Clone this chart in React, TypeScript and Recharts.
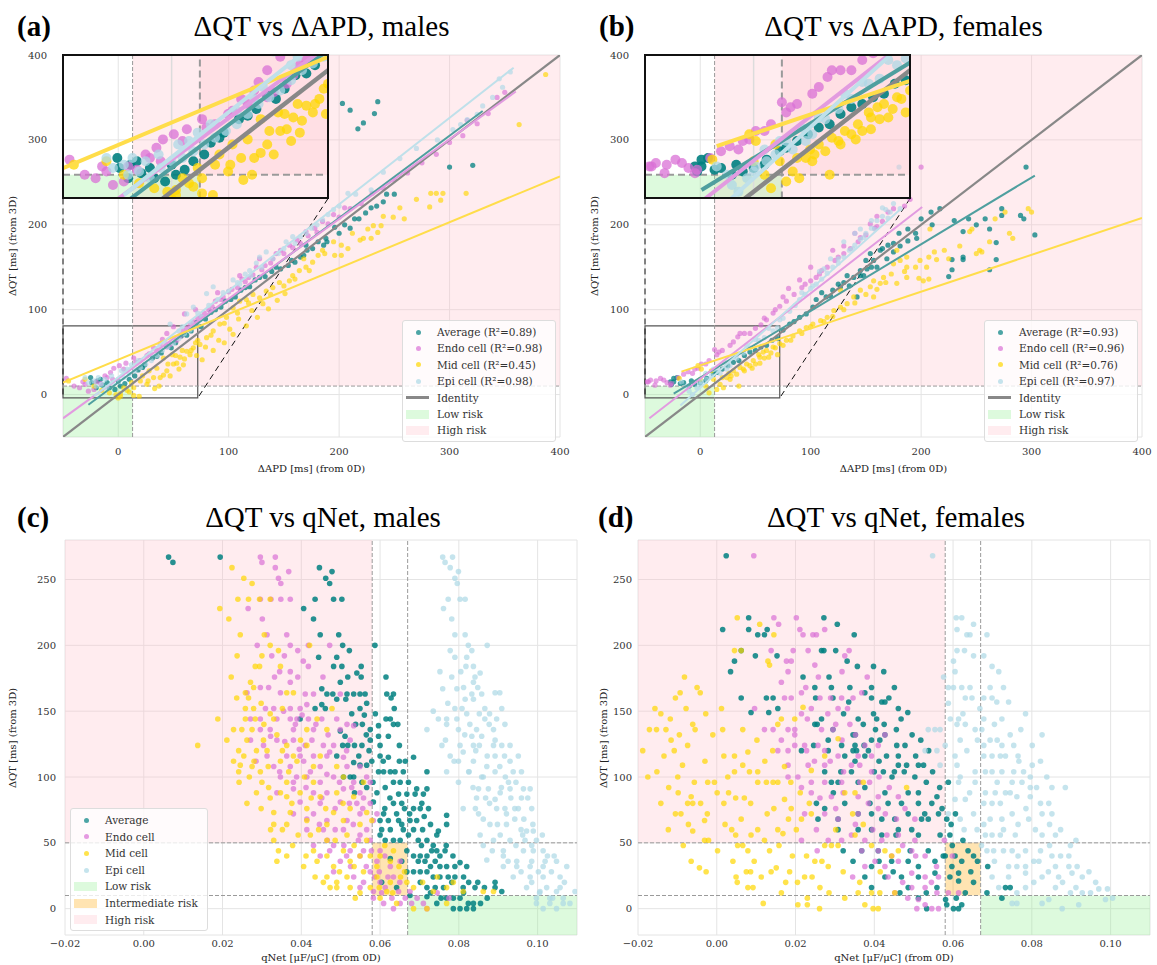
import React from 'react';
import { ScatterChart, Scatter, XAxis, YAxis, CartesianGrid, ReferenceArea, ReferenceLine } from 'recharts';

type Pt = [number, number];

// ---------- panel (a): ΔQT vs ΔAPD, males ----------
const apdMalesAvg: Pt[] = [
  [-25, 20], [-24, 14], [-19, 16], [-14, 11], [-8, 8], [-3, 6], [2, 10], [6, 13], [10, 18], [-20, 8],
  [18, 29], [24, 35], [31, 43], [39, 49], [44, 57], [52, 61], [57, 69], [66, 75], [71, 85], [79, 89], [84, 97], [93, 103],
  [97, 110], [106, 115], [111, 123], [119, 127], [124, 135], [133, 139], [139, 145], [147, 148], [154, 152], [160, 156],
  [165, 162], [168, 164], [171, 170], [176, 172], [181, 180], [186, 176], [188, 184], [189, 180], [196, 197], [200, 190],
  [205, 200], [210, 196], [214, 207], [218, 207], [224, 214], [229, 220], [234, 222], [240, 227], [243, 236], [250, 236],
  [203, 343], [210, 335], [235, 345], [232, 331], [217, 313], [222, 320], [300, 268], [321, 270],
  [-16, 18], [-10, 14], [0, 16], [15, 22], [22, 32], [35, 45], [48, 55], [62, 70], [75, 80], [88, 100], [102, 112],
  [115, 126], [128, 138], [143, 150], [157, 158], [170, 176],
];
const apdMalesEndo: Pt[] = [
  [-47, 19], [-40, 10], [-32, 15], [-27, 4], [-35, 8], [-22, 6], [-20, 15], [-16, 13], [-12, 22], [-7, 26], [-5, 18],
  [-4, 31], [1, 34], [7, 37], [14, 43], [16, 38], [26, 46], [28, 48], [35, 52], [44, 56], [47, 59], [53, 64], [56, 69],
  [44, 72], [59, 75], [40, 65], [50, 80], [60, 95], [65, 82], [70, 100], [72, 90], [78, 96], [85, 104], [90, 120],
  [93, 112], [100, 121], [108, 126], [110, 140], [115, 133], [122, 141], [128, 160], [130, 147], [138, 155], [143, 166],
  [150, 166], [158, 173], [165, 178], [172, 187], [180, 191], [190, 201], [200, 209], [210, 219], [220, 225], [230, 237],
  [240, 243], [250, 253], [262, 261], [275, 273], [288, 283], [300, 297], [312, 305], [316, 323], [325, 319], [335, 331],
  [343, 350], [350, 356],
  [62, 78], [68, 86], [75, 92], [82, 100], [88, 110], [95, 115], [103, 124], [112, 136], [118, 138], [125, 150],
  [133, 152], [140, 160], [147, 170], [155, 176], [162, 182], [170, 192], [178, 196], [185, 204], [195, 212], [205, 220],
  [-30, 12], [-10, 20], [5, 30], [20, 40], [32, 55], [38, 60],
];
const apdMalesMid: Pt[] = [
  [-45, 16], [-30, 18], [-22, 10], [-15, 5], [-8, 2], [-2, 0], [2, -2], [2, 1], [8, 5], [10, 3], [14, -1], [19, -2],
  [14, 8], [20, 16], [22, 22], [26, 12], [27, 16], [32, 20], [33, 7], [35, 31], [37, 10], [38, 20], [41, 23], [41, 43],
  [44, 28], [49, 47], [50, 36], [53, 37], [56, 44], [59, 35], [62, 51], [65, 47], [66, 52], [68, 55], [70, 61], [74, 59],
  [80, 67], [86, 75], [92, 83], [98, 91], [104, 102], [110, 110], [116, 112], [122, 118], [128, 114], [134, 122],
  [140, 126], [146, 132], [155, 134], [158, 140], [164, 146], [170, 150], [173, 146], [176, 156], [181, 164], [187, 166],
  [196, 164], [202, 164], [202, 176], [208, 172], [219, 182], [222, 184], [229, 184], [226, 195], [231, 199], [235, 191],
  [238, 199], [249, 209], [259, 207], [282, 221], [292, 229], [283, 237], [288, 237], [294, 237], [315, 237], [363, 318],
  [387, 377], [60, 42], [71, 46], [79, 56], [91, 64], [101, 77], [109, 89], [121, 99], [131, 107], [47, 22], [55, 30],
  [76, 41], [86, 52], [96, 61], [104, 71], [116, 81], [126, 91], [136, 101], [144, 111], [151, 119],
  [0, -4], [5, 8], [12, 14], [28, 28], [45, 36], [52, 46], [58, 52], [72, 64], [84, 70], [96, 84], [108, 96], [118, 108],
  [138, 118], [150, 128], [160, 136], [168, 160], [185, 170], [195, 180], [212, 190], [240, 210], [255, 220], [270, 230],
];
const apdMalesEpi: Pt[] = [
  [-30, 20], [-27, 14], [-22, 16], [-18, 20], [-15, 12], [-10, 8], [-6, 22], [-5, 14], [0, 18], [3, 28], [5, 20], [10, 24],
  [12, 35], [15, 28], [20, 32], [25, 36], [30, 40], [35, 46], [40, 52], [45, 56], [47, 83], [50, 60], [55, 66], [60, 72],
  [62, 95], [65, 76], [68, 103], [70, 80], [75, 92], [80, 119], [86, 127], [90, 112], [100, 122], [104, 135], [110, 130],
  [119, 146], [120, 140], [130, 150], [134, 168], [140, 160], [150, 172], [158, 186], [160, 178], [170, 190], [180, 200],
  [190, 212], [200, 222], [208, 237], [215, 236], [229, 241], [240, 262], [255, 278], [270, 290], [289, 300], [303, 312],
  [310, 318], [316, 324], [325, 330], [330, 340], [339, 350], [345, 372], [348, 362], [355, 380],
  [30, 48], [38, 55], [55, 75], [66, 85], [72, 96], [82, 105], [95, 120], [108, 132], [115, 142], [125, 155], [128, 162],
  [145, 166], [152, 180], [165, 186], [175, 196], [185, 206], [195, 218], [-20, 10], [-12, 18], [8, 30], [18, 40],
  [42, 62], [58, 80],
];
// regression line end points [x, y]
const fitMalesAvg: Pt[] = [[-27, -12], [330, 334]];
const fitMalesEndo: Pt[] = [[-50, -28], [360, 357]];
const fitMalesMid: Pt[] = [[-50, 14], [400, 257]];
const fitMalesEpi: Pt[] = [[-22, -2], [358, 385]];

// ---------- panel (b): ΔQT vs ΔAPD, females ----------
const apdFemalesAvg: Pt[] = [
  [-27, 15], [-24, 19], [-24, 15], [-26, 12], [-21, 20], [-18, 13], [-10, 10], [-5, 12], [0, 14], [6, 19], [12, 24],
  [20, 30], [30, 38], [40, 46], [50, 52], [60, 58], [70, 66], [81, 83], [90, 91], [96, 95], [102, 103], [114, 115],
  [120, 123], [127, 127], [133, 140], [139, 138], [142, 115], [145, 146], [151, 148], [154, 166], [157, 158], [163, 170],
  [169, 160], [175, 168], [181, 175], [188, 195], [188, 181], [196, 184], [200, 207], [209, 215], [217, 219], [225, 139],
  [228, 159], [228, 147], [238, 192], [238, 162], [238, 159], [243, 207], [258, 207], [262, 195], [262, 147], [268, 179],
  [268, 159], [273, 219], [273, 211], [290, 211], [293, 207], [295, 268], [303, 188], [110, 120], [125, 130], [135, 128],
  [148, 140], [160, 150], [170, 176], [180, 190], [150, 158], [165, 172],
  [-15, 14], [-8, 16], [5, 16], [15, 26], [25, 34], [35, 40], [45, 50], [55, 56], [65, 64], [75, 76], [85, 86],
  [105, 112], [118, 116], [130, 132], [145, 140], [155, 150], [175, 178], [195, 190], [210, 200], [230, 205], [250, 200],
];
const apdFemalesEndo: Pt[] = [
  [-48, 15], [-47, 15], [-45, 17], [-41, 11], [-36, 19], [-33, 17], [-27, 11], [-26, 13], [-11, 27], [-7, 25], [-2, 31],
  [1, 36], [8, 40], [13, 53], [15, 47], [17, 50], [27, 58], [34, 68], [45, 72], [36, 72], [50, 78], [55, 82], [60, 88],
  [66, 96], [72, 104], [78, 110], [85, 118], [92, 126], [100, 134], [108, 142], [115, 150], [122, 158], [130, 166],
  [136, 172], [143, 180], [150, 188], [158, 196], [165, 204], [170, 215], [175, 219], [154, 201], [200, 268], [140, 190],
  [120, 170], [100, 150], [80, 125], [130, 175], [110, 146], [90, 135],
  [-40, 16], [-30, 14], [-20, 20], [-15, 24], [-5, 30], [5, 36], [20, 52], [30, 62], [40, 72], [58, 90], [68, 100],
  [75, 115], [95, 130], [105, 138], [125, 162], [145, 185], [160, 198], [185, 222], [190, 230], [160, 210],
];
const apdFemalesMid: Pt[] = [
  [-19, 19], [-2, 34], [1, 30], [8, 2], [12, 18], [18, 12], [21, 8], [26, 25], [27, 18], [33, 24], [35, 10], [39, 30],
  [45, 34], [47, 31], [53, 47], [54, 37], [58, 43], [64, 49], [68, 55], [70, 47], [72, 60], [78, 64], [84, 69], [90, 75],
  [96, 79], [102, 83], [109, 87], [115, 91], [121, 99], [127, 103], [133, 107], [139, 115], [145, 123], [154, 127],
  [157, 134], [163, 131], [166, 138], [173, 142], [175, 154], [178, 170], [181, 158], [187, 162], [187, 150], [198, 137],
  [199, 158], [202, 134], [207, 162], [207, 136], [208, 195], [212, 168], [214, 159], [221, 170], [244, 192], [246, 195],
  [250, 166], [253, 170], [255, 168], [267, 207], [276, 215], [283, 184], [297, 219], [127, 123], [157, 115], [187, 138],
  [178, 131], [60, 52], [66, 56], [54, 44], [48, 40], [42, 36], [36, 32], [30, 28], [24, 20], [15, 6],
  [0, 18], [5, 10], [10, 28], [20, 20], [28, 22], [40, 28], [50, 36], [57, 50], [62, 44], [75, 58], [82, 64], [92, 72],
  [100, 80], [112, 86], [120, 92], [130, 100], [140, 108], [150, 118], [160, 124], [168, 132], [185, 145], [195, 150],
  [205, 150], [225, 160], [235, 175], [262, 180], [280, 190], [300, 215],
];
const apdFemalesEpi: Pt[] = [
  [-17, 15], [-10, 4], [-7, 0], [-3, 8], [1, 15], [6, 18], [10, 22], [12, 30], [18, 25], [24, 30], [27, 34], [33, 43],
  [39, 49], [45, 55], [53, 64], [58, 67], [66, 75], [70, 79], [75, 90], [81, 98], [86, 105], [90, 112], [95, 118],
  [100, 125], [105, 130], [110, 136], [115, 143], [120, 150], [125, 155], [130, 162], [135, 170], [140, 176], [145, 183],
  [150, 190], [155, 196], [160, 205], [165, 210], [172, 215], [181, 219], [175, 225], [168, 218], [155, 205], [140, 190],
  [130, 180], [118, 160], [108, 145], [180, 268],
  [-12, 10], [0, 12], [5, 25], [15, 30], [22, 38], [30, 44], [42, 58], [50, 65], [62, 78], [72, 88], [92, 120],
  [102, 128], [112, 148], [125, 160], [138, 172], [148, 185], [158, 195], [170, 208], [145, 195], [165, 220],
];
const fitFemalesAvg: Pt[] = [[-24, 1], [303, 258]];
const fitFemalesEndo: Pt[] = [[-46, -28], [201, 221]];
const fitFemalesMid: Pt[] = [[-17, 27], [400, 208]];
const fitFemalesEpi: Pt[] = [[-18, -13], [181, 218]];

// ---------- panel (c): ΔQT vs qNet, males ----------
const qnetMalesAvg: Pt[] = [
  [0.0063, 267], [0.0074, 263], [0.0194, 267], [0.0446, 259], [0.0478, 256], [0.0462, 251], [0.0472, 247], [0.0435, 235],
  [0.0482, 235], [0.0503, 235], [0.0406, 228], [0.0431, 220], [0.0448, 208], [0.0495, 208], [0.0505, 200], [0.0522, 196],
  [0.0587, 200], [0.0444, 191], [0.049, 191], [0.0482, 184], [0.0503, 184], [0.0552, 184], [0.0541, 179], [0.0518, 176],
  [0.0552, 176], [0.0499, 172], [0.0452, 167], [0.0465, 163], [0.048, 163], [0.0516, 163], [0.0533, 163], [0.0549, 163],
  [0.0562, 163], [0.049, 159], [0.0513, 159], [0.0452, 155], [0.0435, 152], [0.0461, 152], [0.0549, 152], [0.056, 147],
  [0.0617, 163], [0.0634, 163], [0.0636, 152], [0.0615, 144], [0.0626, 144], [0.0634, 140], [0.0645, 140], [0.0528, 148],
  [0.0397, 144], [0.0596, 139], [0.0575, 136], [0.0565, 132], [0.0596, 131], [0.0499, 135], [0.0511, 131], [0.0505, 124],
  [0.0535, 124], [0.0554, 124], [0.0575, 128], [0.06, 124], [0.0621, 131], [0.0649, 124], [0.06, 116], [0.0621, 115],
  [0.0685, 115], [0.049, 116], [0.0533, 111], [0.0549, 109], [0.0566, 109], [0.0579, 112], [0.0649, 112], [0.0664, 112],
  [0.0596, 104], [0.0609, 104], [0.0638, 104], [0.0659, 104], [0.0719, 104], [0.0507, 100], [0.0533, 100], [0.0554, 96],
  [0.0634, 96], [0.0651, 96], [0.0672, 96], [0.0693, 91], [0.0719, 91], [0.0647, 87], [0.0668, 87], [0.0689, 87],
  [0.071, 87], [0.0583, 81], [0.0634, 80], [0.0706, 80], [0.0685, 76], [0.0702, 76], [0.0723, 76], [0.0609, 72],
  [0.0642, 72], [0.0675, 72], [0.0769, 71], [0.06, 67], [0.0621, 67], [0.0647, 67], [0.0676, 67], [0.0693, 67],
  [0.0769, 64], [0.0748, 59], [0.0604, 60], [0.0626, 60], [0.0659, 60], [0.0685, 60], [0.06, 56], [0.0613, 52],
  [0.0634, 52], [0.0651, 52], [0.0697, 52], [0.0719, 52], [0.0744, 56], [0.0768, 48], [0.0744, 44], [0.0765, 44],
  [0.0685, 40], [0.0702, 40], [0.0719, 40], [0.0731, 44], [0.0697, 36], [0.0714, 36], [0.074, 36], [0.0752, 32],
  [0.0769, 32], [0.079, 32], [0.082, 32], [0.0803, 35], [0.0685, 28], [0.0702, 28], [0.0719, 28], [0.0735, 24],
  [0.0752, 24], [0.0773, 24], [0.079, 24], [0.0702, 20], [0.0719, 16], [0.074, 16], [0.0761, 16], [0.0811, 16],
  [0.0841, 16], [0.0782, 20], [0.0892, 20], [0.0892, 16], [0.0909, 13], [0.0769, 8], [0.0786, 8], [0.0803, 8],
  [0.0744, 4], [0.0824, 4], [0.0837, 4], [0.0786, 0], [0.0803, 0], [0.082, 0], [0.0837, 0], [0.0604, 20], [0.0642, 16],
  [0.0668, 28], [0.0626, 38], [0.0676, 10], [0.0719, 9],
  [0.0555, 140], [0.0588, 148], [0.0572, 120], [0.0608, 112], [0.0626, 104], [0.0582, 96], [0.0613, 92], [0.0592, 88],
  [0.0625, 84], [0.0655, 80], [0.0612, 76], [0.0662, 76], [0.0712, 70], [0.0655, 64], [0.0708, 60], [0.0728, 64],
  [0.0672, 56], [0.0705, 48], [0.0735, 48], [0.0668, 44], [0.0752, 40], [0.0785, 40], [0.0728, 32], [0.0655, 36],
  [0.0812, 24], [0.0825, 20], [0.0848, 20], [0.0865, 16], [0.0872, 8], [0.0855, 4], [0.0812, 12], [0.0755, 8],
  [0.0728, 12], [0.0615, 176], [0.0628, 160], [0.0538, 140], [0.0566, 156], [0.0518, 124], [0.0546, 116], [0.0524, 100],
  [0.0566, 92], [0.0535, 88],
];
const qnetMalesEndo: Pt[] = [
  [0.0296, 267], [0.03, 263], [0.0334, 267], [0.0334, 259], [0.0368, 256], [0.0342, 251], [0.0348, 247], [0.0296, 235],
  [0.0323, 235], [0.0348, 235], [0.0372, 235], [0.0265, 228], [0.0301, 220], [0.0313, 208], [0.0363, 208], [0.0372, 200],
  [0.0391, 196], [0.0418, 200], [0.0472, 200], [0.0325, 192], [0.0357, 192], [0.0418, 184], [0.0372, 180], [0.0345, 180],
  [0.0372, 172], [0.0391, 176], [0.0296, 168], [0.0317, 168], [0.0347, 164], [0.041, 163], [0.0431, 163], [0.0499, 163],
  [0.0309, 152], [0.033, 152], [0.0372, 152], [0.0397, 152], [0.0414, 155], [0.0271, 144], [0.0296, 144], [0.0338, 144],
  [0.0372, 144], [0.0389, 144], [0.0418, 144], [0.0452, 144], [0.049, 144], [0.0516, 140], [0.0533, 139], [0.0296, 136],
  [0.0321, 136], [0.038, 136], [0.0431, 136], [0.0499, 136], [0.0271, 128], [0.0304, 124], [0.0338, 128], [0.038, 128],
  [0.041, 124], [0.0456, 124], [0.0482, 124], [0.0524, 128], [0.0313, 116], [0.0363, 116], [0.0397, 116], [0.0431, 116],
  [0.0465, 116], [0.0507, 115], [0.033, 108], [0.0372, 108], [0.0406, 112], [0.0448, 108], [0.0516, 108], [0.0549, 108],
  [0.0347, 100], [0.038, 96], [0.0414, 100], [0.0448, 96], [0.0482, 100], [0.0533, 96], [0.0566, 100], [0.0338, 88],
  [0.038, 91], [0.0431, 88], [0.0465, 88], [0.0507, 91], [0.0549, 88], [0.0397, 81], [0.0448, 80], [0.0499, 81],
  [0.0541, 80], [0.0575, 80], [0.038, 72], [0.0431, 72], [0.0465, 67], [0.0516, 67], [0.0549, 72], [0.0583, 67],
  [0.0414, 60], [0.0456, 60], [0.0507, 60], [0.0549, 56], [0.0575, 52], [0.0431, 48], [0.0482, 48], [0.0524, 44],
  [0.0558, 44], [0.06, 44], [0.0448, 40], [0.0499, 36], [0.0549, 40], [0.0592, 36], [0.0626, 32], [0.0651, 36],
  [0.0482, 28], [0.0533, 24], [0.0575, 28], [0.06, 20], [0.0634, 24], [0.0549, 16], [0.0583, 13], [0.0613, 16],
  [0.0647, 13], [0.0676, 13], [0.0583, 8], [0.0609, 4], [0.0651, 4], [0.068, 4], [0.071, 4], [0.0719, 0], [0.0634, 0],
  [0.0355, 150], [0.0402, 147], [0.0437, 140], [0.0468, 132], [0.0322, 131], [0.0358, 127], [0.0395, 121], [0.0427, 128],
  [0.0472, 119], [0.0515, 120], [0.0285, 112], [0.0345, 104], [0.0388, 100], [0.0423, 104], [0.0465, 102], [0.0497, 96],
  [0.0528, 92], [0.0558, 84], [0.0412, 92], [0.0452, 84], [0.0486, 76], [0.0522, 80], [0.0556, 76], [0.0414, 68],
  [0.0446, 64], [0.0486, 60], [0.0532, 64], [0.0566, 60], [0.0466, 52], [0.0508, 48], [0.0545, 52], [0.0578, 44],
  [0.0612, 40], [0.0472, 44], [0.0515, 40], [0.0565, 32], [0.0598, 28], [0.0525, 32], [0.062, 24], [0.065, 20],
  [0.0558, 20], [0.0586, 24], [0.0604, 12], [0.063, 8], [0.0664, 8], [0.0694, 8], [0.0745, 12], [0.0775, 8],
  [0.0262, 164], [0.0332, 176], [0.0405, 188], [0.0455, 176], [0.0288, 200], [0.0385, 140], [0.0575, 96], [0.0592, 72],
];
const qnetMalesMid: Pt[] = [
  [0.0224, 259], [0.0254, 251], [0.0275, 247], [0.0239, 235], [0.0266, 235], [0.0294, 235], [0.0321, 235], [0.0193, 228],
  [0.0216, 220], [0.0245, 208], [0.0306, 208], [0.0321, 200], [0.0342, 196], [0.0421, 200], [0.0237, 192], [0.03, 192],
  [0.0283, 184], [0.0294, 184], [0.0347, 184], [0.0271, 172], [0.0258, 164], [0.0279, 168], [0.0363, 164], [0.038, 164],
  [0.0258, 152], [0.0279, 152], [0.0266, 160], [0.0478, 152], [0.0188, 144], [0.0258, 144], [0.0283, 144], [0.033, 144],
  [0.044, 144], [0.0275, 136], [0.0249, 136], [0.0414, 136], [0.0465, 136], [0.0211, 128], [0.0304, 128], [0.0363, 124],
  [0.0414, 124], [0.0137, 124], [0.0241, 120], [0.0313, 120], [0.038, 116], [0.0448, 116], [0.0254, 116], [0.0245, 109],
  [0.0275, 108], [0.0296, 104], [0.0347, 112], [0.0389, 112], [0.0431, 108], [0.049, 108], [0.0241, 104], [0.03, 96],
  [0.0317, 92], [0.0363, 96], [0.0431, 96], [0.0507, 100], [0.0558, 96], [0.0363, 85], [0.0347, 88], [0.0397, 88],
  [0.0448, 85], [0.049, 88], [0.0533, 85], [0.033, 73], [0.0372, 73], [0.0414, 76], [0.0482, 73], [0.0524, 76],
  [0.0566, 73], [0.033, 64], [0.0363, 64], [0.0414, 67], [0.0465, 64], [0.0507, 67], [0.0549, 64], [0.0579, 67],
  [0.033, 52], [0.0423, 56], [0.0465, 52], [0.0516, 56], [0.0566, 52], [0.0342, 44], [0.0338, 36], [0.0363, 40],
  [0.0431, 44], [0.0465, 40], [0.0507, 44], [0.0549, 40], [0.06, 40], [0.0634, 44], [0.0406, 32], [0.044, 36],
  [0.0482, 32], [0.0524, 36], [0.0592, 32], [0.0626, 36], [0.0435, 24], [0.0465, 24], [0.0516, 24], [0.0558, 28],
  [0.0592, 24], [0.0626, 20], [0.0668, 20], [0.0456, 20], [0.049, 20], [0.0473, 16], [0.049, 16], [0.0524, 16],
  [0.0575, 16], [0.0617, 13], [0.0685, 16], [0.0735, 13], [0.0769, 16], [0.0811, 13], [0.0862, 13], [0.0888, 13],
  [0.0549, 12], [0.0537, 8], [0.06, 8], [0.0642, 4], [0.0685, 0], [0.0719, 0], [0.0769, 4],
  [0.0222, 176], [0.0236, 160], [0.0298, 156], [0.0321, 148], [0.0352, 152], [0.0228, 136], [0.0262, 128], [0.0338, 132],
  [0.0286, 120], [0.0352, 120], [0.0398, 128], [0.0228, 112], [0.0316, 108], [0.0368, 104], [0.0408, 100], [0.0268, 100],
  [0.0286, 88], [0.0321, 84], [0.0376, 80], [0.0425, 84], [0.0462, 76], [0.0506, 80], [0.0298, 76], [0.0352, 60],
  [0.0392, 56], [0.0444, 60], [0.0486, 52], [0.0534, 48], [0.0322, 60], [0.0378, 48], [0.0412, 40], [0.0497, 28],
  [0.0534, 32], [0.0575, 40], [0.0612, 48], [0.0648, 32], [0.0662, 28], [0.0598, 16], [0.0632, 12], [0.0652, 24],
  [0.0708, 20], [0.0745, 24], [0.0786, 20], [0.0262, 80], [0.0242, 96], [0.0305, 140], [0.028, 112],
];
const qnetMalesEpi: Pt[] = [
  [0.0759, 267], [0.0784, 267], [0.0765, 263], [0.0778, 259], [0.0799, 256], [0.079, 251], [0.0796, 247], [0.0773, 235],
  [0.0803, 235], [0.0816, 235], [0.0761, 228], [0.0782, 220], [0.079, 208], [0.0816, 208], [0.0824, 200], [0.0872, 200],
  [0.079, 191], [0.082, 191], [0.0833, 196], [0.0818, 184], [0.0837, 184], [0.0854, 179], [0.0841, 176], [0.0837, 172],
  [0.0759, 167], [0.0795, 167], [0.0833, 163], [0.0858, 163], [0.0892, 164], [0.0904, 164], [0.0816, 159], [0.0837, 159],
  [0.079, 152], [0.0866, 152], [0.0909, 152], [0.0748, 144], [0.0769, 144], [0.0795, 144], [0.082, 148], [0.0866, 144],
  [0.0896, 144], [0.0917, 140], [0.0719, 136], [0.0769, 140], [0.0799, 136], [0.0845, 136], [0.0888, 136], [0.0833, 131],
  [0.0858, 131], [0.0892, 128], [0.0757, 124], [0.0803, 124], [0.0837, 124], [0.0888, 124], [0.0909, 124], [0.093, 124],
  [0.0778, 116], [0.0811, 119], [0.0892, 116], [0.0951, 116], [0.0769, 104], [0.0799, 112], [0.0837, 112], [0.0871, 108],
  [0.0904, 108], [0.093, 112], [0.0938, 104], [0.0959, 104], [0.0892, 104], [0.0799, 96], [0.085, 91], [0.0875, 91],
  [0.0926, 96], [0.093, 91], [0.0964, 91], [0.0981, 91], [0.0845, 84], [0.0892, 83], [0.0959, 84], [0.0811, 76],
  [0.0896, 76], [0.0917, 76], [0.0951, 76], [0.0985, 76], [0.085, 72], [0.0921, 72], [0.0879, 64], [0.0921, 64],
  [0.0972, 59], [0.0989, 59], [0.0854, 56], [0.0888, 52], [0.093, 52], [0.0968, 52], [0.0997, 52], [0.0862, 48],
  [0.0913, 44], [0.0964, 44], [0.0989, 44], [0.1014, 44], [0.0871, 37], [0.0913, 40], [0.0947, 36], [0.0985, 36],
  [0.1019, 36], [0.1048, 36], [0.0913, 32], [0.0947, 32], [0.0981, 32], [0.1014, 32], [0.1074, 32], [0.0938, 24],
  [0.0981, 24], [0.1014, 24], [0.1057, 24], [0.0972, 16], [0.1023, 16], [0.1057, 16], [0.1006, 13], [0.1048, 13],
  [0.1095, 13], [0.0997, 8], [0.1031, 8], [0.1065, 8], [0.0997, 4], [0.1031, 4], [0.1065, 4], [0.1014, 0], [0.1048, 0],
  [0.0862, 100], [0.0905, 88], [0.0942, 68], [0.0878, 80], [0.0958, 60], [0.0843, 120], [0.0877, 140], [0.0826, 104],
  [0.0778, 196], [0.0805, 180], [0.0782, 176], [0.0812, 168], [0.0848, 168], [0.0772, 156], [0.0808, 152], [0.0852, 148],
  [0.0828, 140], [0.0878, 148], [0.0766, 128], [0.0815, 132], [0.0852, 124], [0.0872, 116], [0.0916, 116], [0.0788, 112],
  [0.0825, 104], [0.0858, 100], [0.0918, 100], [0.0945, 96], [0.0836, 92], [0.0868, 84], [0.0908, 92], [0.0932, 84],
  [0.0975, 84], [0.0842, 76], [0.0862, 68], [0.0898, 64], [0.0942, 76], [0.0965, 68], [0.0988, 64], [0.0905, 56],
  [0.0945, 48], [0.0985, 48], [0.1025, 40], [0.0925, 36], [0.0958, 28], [0.1002, 28], [0.1035, 28], [0.1068, 20],
  [0.0985, 20], [0.1038, 8], [0.1082, 4], [0.1005, 12], [0.1042, 40], [0.0885, 44], [0.0962, 56], [0.1012, 56],
  [0.0735, 150], [0.0752, 180],
];

// ---------- panel (d): ΔQT vs qNet, females ----------
const qnetFemalesAvg: Pt[] = [
  [0.0024, 268], [0.0015, 212], [0.0081, 221], [0.0081, 212], [0.0104, 208], [0.0121, 208], [0.0128, 212], [0.0272, 221],
  [0.0306, 216], [0.0349, 208], [0.0062, 196], [0.0045, 188], [0.0035, 180], [0.0098, 192], [0.0153, 192], [0.0266, 196],
  [0.0272, 196], [0.0302, 196], [0.0331, 188], [0.0357, 184], [0.0424, 180], [0.0219, 176], [0.0249, 168], [0.0291, 168],
  [0.0393, 168], [0.0376, 164], [0.0062, 160], [0.0126, 160], [0.0143, 160], [0.0251, 160], [0.0295, 160], [0.0393, 160],
  [0.0419, 157], [0.0427, 157], [0.0437, 160], [0.0087, 149], [0.0132, 149], [0.0155, 152], [0.0335, 157], [0.0461, 152],
  [0.0485, 149], [0.0266, 144], [0.0359, 144], [0.0406, 144], [0.0249, 140], [0.0255, 140], [0.0295, 136], [0.0346, 132],
  [0.0352, 132], [0.0403, 136], [0.0427, 132], [0.0283, 128], [0.0393, 128], [0.0414, 128], [0.0246, 124], [0.0317, 124],
  [0.0351, 124], [0.0374, 124], [0.0457, 124], [0.0478, 124], [0.0215, 120], [0.0283, 120], [0.0346, 120], [0.0355, 120],
  [0.0385, 120], [0.0325, 116], [0.0376, 116], [0.0431, 116], [0.0461, 116], [0.0505, 116], [0.0351, 112], [0.0482, 109],
  [0.0512, 109], [0.0525, 109], [0.0461, 109], [0.0274, 104], [0.0308, 96], [0.0342, 104], [0.04, 104], [0.0423, 104],
  [0.0451, 104], [0.0476, 104], [0.0503, 100], [0.0291, 96], [0.0359, 96], [0.0376, 92], [0.0427, 88], [0.0486, 88],
  [0.0512, 88], [0.0559, 85], [0.0546, 80], [0.0253, 80], [0.0274, 76], [0.0325, 80], [0.0389, 80], [0.0435, 80],
  [0.0469, 80], [0.0512, 80], [0.0257, 68], [0.0308, 68], [0.0359, 72], [0.0393, 72], [0.0419, 68], [0.0452, 68],
  [0.0486, 72], [0.052, 68], [0.0537, 68], [0.0563, 72], [0.0584, 68], [0.0308, 60], [0.0359, 60], [0.0393, 60],
  [0.0419, 56], [0.0461, 60], [0.0512, 56], [0.0567, 56], [0.0592, 56], [0.0321, 44], [0.0368, 44], [0.041, 44],
  [0.0491, 44], [0.0537, 44], [0.0346, 36], [0.0393, 32], [0.0444, 36], [0.0486, 36], [0.0512, 32], [0.0554, 36],
  [0.058, 40], [0.0605, 40], [0.0597, 32], [0.0622, 36], [0.0652, 40], [0.0376, 24], [0.0427, 24], [0.0469, 24],
  [0.0512, 24], [0.0554, 27], [0.0592, 24], [0.0614, 27], [0.0393, 16], [0.0465, 12], [0.0512, 8], [0.0533, 0],
  [0.0559, 16], [0.0581, 7], [0.0584, 3], [0.0601, 0], [0.0614, 0], [0.0622, 3], [0.0631, 12], [0.0614, 21],
  [0.0724, 8], [0.0733, 16], [0.0745, 16], [0.0686, 12],
  [0.0372, 140], [0.0398, 148], [0.0425, 140], [0.0456, 136], [0.0468, 144], [0.0496, 132], [0.0518, 128], [0.0538, 120],
  [0.0412, 112], [0.0445, 100], [0.0532, 96], [0.0548, 104], [0.0566, 92], [0.0588, 96], [0.0528, 72], [0.0572, 76],
  [0.0595, 64], [0.0606, 72], [0.0598, 48], [0.0625, 52], [0.0638, 44], [0.0645, 28], [0.0652, 20], [0.0608, 8],
  [0.0486, 16], [0.0532, 12], [0.0448, 28], [0.0412, 36], [0.0322, 148], [0.0338, 168], [0.0285, 176], [0.0398, 184],
  [0.0451, 168], [0.0315, 104], [0.0296, 88], [0.0455, 56], [0.0495, 60], [0.0575, 40], [0.0662, 36], [0.0688, 32],
];
const qnetFemalesEndo: Pt[] = [
  [0.0094, 268], [0.0145, 221], [0.0157, 216], [0.0202, 221], [0.0211, 212], [0.0219, 208], [0.0244, 208], [0.0253, 208],
  [0.0274, 212], [0.0138, 196], [0.0194, 196], [0.0177, 188], [0.0189, 188], [0.0181, 180], [0.0249, 185], [0.0318, 180],
  [0.0325, 192], [0.0368, 164], [0.0164, 172], [0.0172, 160], [0.0189, 160], [0.0215, 164], [0.0289, 160], [0.0317, 160],
  [0.0346, 160], [0.0096, 152], [0.0215, 148], [0.024, 152], [0.0308, 152], [0.0332, 152], [0.023, 144], [0.0121, 136],
  [0.0143, 136], [0.0181, 136], [0.0198, 136], [0.0266, 136], [0.0295, 136], [0.0427, 132], [0.0164, 128], [0.0198, 124],
  [0.0223, 124], [0.0257, 124], [0.0376, 124], [0.041, 124], [0.0155, 120], [0.0181, 120], [0.0228, 120], [0.0274, 120],
  [0.0308, 116], [0.0359, 116], [0.0393, 116], [0.0181, 109], [0.0232, 109], [0.0274, 109], [0.0342, 109], [0.0363, 109],
  [0.0393, 104], [0.0181, 100], [0.0206, 100], [0.024, 96], [0.0274, 96], [0.0317, 96], [0.0363, 96], [0.024, 88],
  [0.0291, 85], [0.0321, 88], [0.0359, 85], [0.041, 85], [0.0461, 85], [0.0223, 72], [0.0274, 72], [0.0308, 68],
  [0.0359, 72], [0.041, 76], [0.0503, 68], [0.0253, 60], [0.0283, 52], [0.0317, 52], [0.0342, 56], [0.0376, 52],
  [0.0419, 52], [0.0461, 56], [0.0503, 52], [0.0368, 44], [0.041, 44], [0.0444, 40], [0.0495, 44], [0.0529, 40],
  [0.0376, 32], [0.0427, 32], [0.0461, 36], [0.0495, 27], [0.0529, 24], [0.0563, 24], [0.0495, 16], [0.0529, 16],
  [0.0559, 12], [0.0512, 7], [0.0529, 3], [0.0546, 0], [0.0508, 0], [0.0563, 0], [0.0588, 12], [0.0614, 12],
  [0.0282, 148], [0.0262, 160], [0.0258, 176], [0.0226, 168], [0.0302, 140], [0.0338, 140], [0.0318, 128], [0.0352, 132],
  [0.0288, 112], [0.0322, 104], [0.0388, 96], [0.0412, 100], [0.0438, 92], [0.0385, 80], [0.0428, 72], [0.0456, 68],
  [0.0478, 76], [0.0352, 64], [0.0396, 60], [0.0432, 56], [0.0472, 48], [0.0505, 40], [0.0402, 36], [0.0435, 24],
  [0.0472, 20], [0.0452, 12], [0.0485, 8], [0.0558, 32], [0.0545, 20], [0.0215, 92], [0.0248, 112], [0.0198, 132],
  [0.0262, 84], [0.0302, 76], [0.0255, 44], [0.0215, 52], [0.0345, 24], [0.0598, 40], [0.0578, 52], [0.0382, 176],
  [0.0336, 196], [0.0232, 196],
];
const qnetFemalesMid: Pt[] = [
  [0.0052, 221], [0.0109, 216], [0.0145, 208], [0.0045, 196], [0.0062, 196], [0.013, 188], [0.0134, 185], [-0.0082, 176],
  [-0.0093, 164], [-0.0105, 160], [-0.005, 168], [-0.0042, 164], [-0.0157, 152], [-0.0061, 140], [-0.0055, 136],
  [-0.0171, 136], [-0.0153, 136], [-0.0129, 136], [-0.0188, 120], [-0.0134, 116], [-0.0108, 120], [-0.0095, 132],
  [-0.0116, 128], [-0.0074, 124], [-0.0087, 109], [-0.0099, 100], [-0.003, 112], [0.0015, 136], [-0.001, 132],
  [0.0018, 116], [0.0045, 116], [0.0066, 136], [-0.0057, 96], [-0.0023, 96], [-0.0006, 96], [-0.0065, 85], [-0.0074, 80],
  [-0.0061, 80], [-0.0091, 72], [-0.0031, 67], [-0.0123, 60], [-0.0031, 52], [-0.0021, 52], [-0.0061, 59], [0.0001, 88],
  [0.003, 88], [0.0048, 84], [0.007, 84], [0.0086, 80], [0.0018, 80], [0.0062, 68], [0.0038, 60], [0.0087, 56],
  [0.0126, 96], [0.0143, 96], [0.0104, 96], [0.0104, 104], [0.0083, 104], [0.0045, 104], [0.0066, 109], [0.0079, 119],
  [0.0104, 60], [0.0121, 52], [0.0155, 60], [-0.0065, 36], [-0.0044, 31], [-0.0027, 28], [0.0041, 36], [0.0053, 48],
  [0.0066, 48], [0.0079, 44], [0.0134, 44], [0.0049, 24], [0.0052, 20], [0.0075, 28], [0.0086, 28], [0.0113, 24],
  [0.0138, 28], [0.0151, 31], [0.0164, 12], [0.0175, 20], [0.0079, 16], [0.0092, 16], [0.0206, 3], [0.023, 8], [0.023, 3],
  [0.0261, 0], [0.0228, 40], [0.0249, 36], [0.0267, 36], [0.0283, 32], [0.0321, 28], [0.0363, 20], [0.0393, 12],
  [0.0397, 0], [0.041, 0], [0.0376, 3], [0.0155, 96], [0.0172, 83], [0.0189, 76], [0.0215, 68], [0.024, 72], [0.0202, 60],
  [0.0168, 57], [0.024, 105], [0.0274, 116], [0.0308, 129], [0.0325, 88], [0.0351, 88], [0.0372, 96], [0.0351, 56],
  [0.0393, 48], [0.0427, 44], [0.0444, 40], [0.0482, 92], [0.0461, 44], [0.0414, 12], [0.0452, 12], [0.0359, 12],
  [0.0274, 48], [0.0291, 48], [0.0308, 48], [0.0223, 24], [0.0164, 144], [0.0155, 140], [0.0198, 144], [0.0219, 153],
  [-0.0142, 148], [-0.0118, 144], [-0.0078, 152], [-0.0028, 148], [0.0012, 152], [-0.0152, 104], [-0.0122, 92],
  [-0.0098, 88], [-0.0041, 80], [-0.0105, 72], [-0.0072, 64], [-0.0024, 72], [0.0021, 64], [0.0048, 56], [0.0002, 44],
  [-0.0085, 48], [-0.0142, 80], [-0.0175, 100], [0.0028, 100], [0.0102, 128], [0.0122, 112], [0.0142, 120], [0.0172, 108],
  [0.0188, 96], [0.0212, 88], [0.0235, 80], [0.0182, 68], [0.0145, 76], [0.0128, 72], [0.0158, 48], [0.0192, 40],
  [0.0185, 28], [0.0205, 20], [0.0242, 24], [0.0262, 16], [0.0285, 12], [0.0325, 8], [0.0302, 60], [0.0345, 72],
  [0.0372, 64], [0.0415, 28], [0.0118, 4], [0.0095, 36],
];
const qnetFemalesEpi: Pt[] = [
  [0.0548, 268], [0.0608, 221], [0.0622, 221], [0.0652, 216], [0.061, 212], [0.0635, 208], [0.0643, 208], [0.0686, 208],
  [0.061, 196], [0.0629, 196], [0.0652, 192], [0.0678, 192], [0.0601, 188], [0.0699, 184], [0.0716, 180], [0.0605, 180],
  [0.0576, 176], [0.0588, 168], [0.0601, 168], [0.0622, 168], [0.0643, 168], [0.0694, 168], [0.0728, 168], [0.0631, 160],
  [0.0648, 160], [0.0678, 160], [0.0699, 160], [0.0711, 157], [0.0741, 157], [0.0593, 144], [0.0614, 144], [0.0678, 144],
  [0.0724, 144], [0.0784, 148], [0.061, 140], [0.0631, 140], [0.0656, 136], [0.0673, 136], [0.0772, 136], [0.0826, 132],
  [0.0537, 136], [0.0554, 136], [0.0567, 136], [0.0618, 128], [0.0678, 124], [0.0694, 128], [0.0724, 124], [0.0754, 124],
  [0.0801, 124], [0.0529, 120], [0.0559, 120], [0.058, 124], [0.0605, 116], [0.0678, 116], [0.0699, 116], [0.072, 116],
  [0.0733, 116], [0.0767, 112], [0.0801, 109], [0.0822, 112], [0.0567, 109], [0.061, 109], [0.0656, 104], [0.0682, 104],
  [0.0699, 104], [0.0724, 104], [0.0754, 104], [0.0779, 104], [0.0796, 100], [0.0614, 96], [0.0656, 96], [0.0682, 88],
  [0.0707, 88], [0.0733, 88], [0.075, 96], [0.0775, 96], [0.0796, 92], [0.0851, 92], [0.0885, 92], [0.0605, 83],
  [0.0631, 83], [0.0678, 80], [0.0699, 80], [0.072, 80], [0.0762, 85], [0.0796, 85], [0.0822, 80], [0.0843, 80],
  [0.0588, 72], [0.0618, 68], [0.0694, 68], [0.0724, 68], [0.075, 72], [0.0826, 72], [0.0851, 72], [0.0661, 60],
  [0.0682, 56], [0.0699, 56], [0.072, 56], [0.0758, 56], [0.0809, 60], [0.0826, 56], [0.086, 56], [0.0873, 60],
  [0.0686, 44], [0.0703, 44], [0.075, 44], [0.0784, 44], [0.0822, 44], [0.0851, 40], [0.0873, 40], [0.0894, 40],
  [0.0741, 32], [0.0762, 32], [0.0784, 32], [0.0818, 36], [0.086, 32], [0.0894, 32], [0.0915, 32], [0.0699, 24],
  [0.0741, 24], [0.0784, 27], [0.0826, 24], [0.0868, 24], [0.0902, 27], [0.0928, 24], [0.0716, 16], [0.0784, 16],
  [0.086, 16], [0.0898, 12], [0.0928, 12], [0.0949, 12], [0.097, 15], [0.0992, 15], [0.075, 4], [0.0762, 4], [0.0826, 4],
  [0.0843, 7], [0.0877, 0], [0.0919, 3], [0.0987, 7],
  [0.0588, 156], [0.0625, 148], [0.0668, 152], [0.0705, 140], [0.0745, 132], [0.0635, 120], [0.0662, 128], [0.0712, 128],
  [0.0765, 116], [0.0618, 100], [0.0642, 88], [0.0712, 96], [0.0745, 88], [0.0785, 76], [0.0812, 92], [0.0838, 100],
  [0.0652, 72], [0.0678, 64], [0.0728, 60], [0.0765, 64], [0.0792, 68], [0.0845, 64], [0.0898, 48], [0.0728, 44],
  [0.0765, 40], [0.0805, 36], [0.0842, 28], [0.0878, 20], [0.0912, 16], [0.0805, 20], [0.0762, 12], [0.0705, 36],
  [0.0672, 48], [0.0628, 60], [0.0845, 48], [0.0912, 52], [0.0945, 28], [0.0962, 20], [0.1005, 8],
];

// ---------- axes, thresholds ----------
const apdDomain: Pt = [-50, 400];
const apdTicks = [0, 100, 200, 300, 400];
const qtApdDomain: Pt = [-50, 400];
const qtApdTicks = [0, 100, 200, 300, 400];
const apdLowX = 13;
const qtLowY = 10;
const zoomX: Pt = [-50, 72];
const zoomY: Pt = [-4, 81];
const insetBoxY: Pt = [231, 400];
const insetBoxX: Pt = [-50, 190];

const qnetDomain: Pt = [-0.02, 0.11];
const qnetTicks = [-0.02, 0, 0.02, 0.04, 0.06, 0.08, 0.1];
const qtQnetDomain: Pt = [-20, 280];
const qtQnetTicks = [0, 50, 100, 150, 200, 250];
const qnetHigh = 0.058;
const qnetLow = 0.067;
const qtHigh = 50;

const SERIF = '"DejaVu Serif", serif';
const TITLE_FONT = '"Liberation Serif", serif';
const C = { avg: '#008080', endo: '#DA70D6', mid: '#FFD700', epi: '#ADD8E6' };
const LC = { avg: '#4f9f9f', endo: '#e29be0', mid: '#ffdd4a', epi: '#bfe0ea' };
const PINK = '#ffc0cb';
const GREEN = '#90ee90';
const ORANGE = '#ffa500';

const toXY = (a: Pt[]) => a.map(([x, y]) => ({ x, y }));
const dot = (r: number, color: string, op: number) => (p: any) =>
  <circle cx={p.cx} cy={p.cy} r={r} fill={color} fillOpacity={op} />;
const noDot = () => <g />;
const tickStyle = { fontFamily: SERIF, fontSize: 10, fill: '#333' };
const fmtQnet = (v: number) => (v < 0 ? '\u2212' + Math.abs(v).toFixed(2) : v.toFixed(2));

type LegendRow = { kind: 'dot' | 'line' | 'patch'; color: string; label: string; op?: number };

function LegendBox({ left, top, width, rows, step }: { left: number; top: number; width: number; rows: LegendRow[]; step: number }) {
  return (
    <div style={{
      position: 'absolute', left, top, width, height: rows.length * step + 7, background: 'rgba(255,255,255,0.8)',
      border: '1px solid #ddd', borderRadius: 3, boxSizing: 'border-box', fontFamily: SERIF, fontSize: 10.5, color: '#333',
    }}>
      {rows.map((r, i) => (
        <div key={i} style={{ position: 'absolute', left: 0, top: 3 + i * step, height: step, width: '100%' }}>
          {r.kind === 'dot' && <div style={{ position: 'absolute', left: 13, top: step / 2 - 2.5, width: 5, height: 5, borderRadius: 3, background: r.color, opacity: r.op ?? 0.7 }} />}
          {r.kind === 'line' && <div style={{ position: 'absolute', left: 3, top: step / 2 - 1.5, width: 23, height: 2.5, background: r.color }} />}
          {r.kind === 'patch' && <div style={{ position: 'absolute', left: 3, top: step / 2 - 4.5, width: 23, height: 9, background: r.color, opacity: 0.3 }} />}
          <div style={{ position: 'absolute', left: 34, top: 0, lineHeight: step + 'px', whiteSpace: 'nowrap' }}>{r.label}</div>
        </div>
      ))}
    </div>
  );
}

function Titles({ letter, title, letterX, titleX, y }: { letter: string; title: string; letterX: number; titleX: number; y: number }) {
  return (
    <>
      <div style={{ position: 'absolute', left: letterX, top: y - 15, fontFamily: TITLE_FONT, fontWeight: 'bold', fontSize: 29, lineHeight: '30px' }}>{letter}</div>
      <div style={{ position: 'absolute', left: titleX - 250, width: 500, top: y - 15, textAlign: 'center', fontFamily: TITLE_FONT, fontSize: 29, lineHeight: '30px' }}>{title}</div>
    </>
  );
}

function AxisLabels({ xLabel, yLabel, xCx, xCy, yCx, yCy }: { xLabel: string; yLabel: string; xCx: number; xCy: number; yCx: number; yCy: number }) {
  const st: React.CSSProperties = { position: 'absolute', fontFamily: SERIF, fontSize: 10, color: '#222', whiteSpace: 'nowrap' };
  return (
    <>
      <div style={{ ...st, left: xCx, top: xCy, transform: 'translate(-50%,-50%)' }}>{xLabel}</div>
      <div style={{ ...st, left: yCx, top: yCy, transform: 'translate(-50%,-50%) rotate(-90deg)' }}>{yLabel}</div>
    </>
  );
}

type ApdSets = { avg: Pt[]; endo: Pt[]; mid: Pt[]; epi: Pt[] };

function ApdPanel({ left, sets, fits, letter, title, r2 }: { left: number; sets: ApdSets; fits: ApdSets; letter: string; title: string; r2: string[] }) {
  const W = 570, H = 480, plotL = 63, plotT = 55, plotW = 497, plotH = 382;
  const sx = (x: number) => plotL + ((x - apdDomain[0]) / (apdDomain[1] - apdDomain[0])) * plotW;
  const sy = (y: number) => plotT + ((qtApdDomain[1] - y) / (qtApdDomain[1] - qtApdDomain[0])) * plotH;
  const iL = sx(insetBoxX[0]), iR = sx(insetBoxX[1]), iT = sy(insetBoxY[1]), iB = sy(insetBoxY[0]);
  const keys: (keyof ApdSets)[] = ['avg', 'endo', 'mid', 'epi'];
  const inZoom = (a: Pt[]) => a.filter(([x, y]) => x > zoomX[0] - 6 && x < zoomX[1] + 6 && y > zoomY[0] - 6 && y < zoomY[1] + 6);
  return (
    <div style={{ position: 'absolute', left, top: 0, width: W, height: H }}>
      <ScatterChart width={W} height={H} margin={{ top: plotT, right: W - plotL - plotW, bottom: 0, left: 0 }}>
        <CartesianGrid stroke="#e4e4e4" />
        <XAxis type="number" dataKey="x" domain={apdDomain} ticks={apdTicks} allowDataOverflow axisLine={false} tickLine={false}
          tickSize={0} tickMargin={11} height={H - plotT - plotH} tick={tickStyle} />
        <YAxis type="number" dataKey="y" domain={qtApdDomain} ticks={qtApdTicks} allowDataOverflow axisLine={false} tickLine={false}
          tickSize={0} tickMargin={16} width={plotL} tick={tickStyle} />
        <ReferenceArea x1={apdDomain[0]} x2={apdLowX} y1={qtApdDomain[0]} y2={qtLowY} fill={GREEN} fillOpacity={0.3} stroke="none" />
        <ReferenceArea x1={apdLowX} x2={apdDomain[1]} y1={qtLowY} y2={qtApdDomain[1]} fill={PINK} fillOpacity={0.3} stroke="none" />
        <ReferenceLine x={apdLowX} stroke="#9a9a9a" strokeDasharray="4 2" />
        <ReferenceLine y={qtLowY} stroke="#9a9a9a" strokeDasharray="4 2" />
        <ReferenceArea x1={zoomX[0]} x2={zoomX[1]} y1={zoomY[0]} y2={zoomY[1]} fill="none" stroke="#555" strokeWidth={1.2} />
        <ReferenceLine segment={[{ x: zoomX[0], y: insetBoxY[0] }, { x: zoomX[0], y: zoomY[0] }]} stroke="#111" strokeDasharray="6 4" />
        <ReferenceLine segment={[{ x: insetBoxX[1], y: insetBoxY[0] }, { x: zoomX[1], y: zoomY[0] }]} stroke="#111" strokeDasharray="6 4" />
        {keys.map((k) => (
          <Scatter key={k} data={toXY(sets[k])} shape={dot(2.6, C[k], k === 'avg' ? 0.75 : 0.65)} isAnimationActive={false} />
        ))}
        <Scatter data={toXY([[apdDomain[0], qtApdDomain[0]], [apdDomain[1], qtApdDomain[1]]])} fill="#888" line={{ stroke: '#888', strokeWidth: 2.2 }} shape={noDot} isAnimationActive={false} />
        {keys.map((k) => (
          <Scatter key={'f' + k} data={toXY(fits[k])} fill={LC[k]} line={{ stroke: LC[k], strokeWidth: 2 }} shape={noDot} isAnimationActive={false} />
        ))}
      </ScatterChart>

      <div style={{ position: 'absolute', left: iL, top: iT, width: iR - iL, height: iB - iT }}>
        <ScatterChart width={iR - iL} height={iB - iT} margin={{ top: 0, right: 0, bottom: 0, left: 0 }}>
          <XAxis type="number" dataKey="x" domain={zoomX} allowDataOverflow hide />
          <YAxis type="number" dataKey="y" domain={zoomY} allowDataOverflow hide />
          <ReferenceLine x={0} stroke="#dcdcdc" strokeWidth={1.5} />
          <ReferenceArea x1={zoomX[0]} x2={apdLowX} y1={zoomY[0]} y2={qtLowY} fill={GREEN} fillOpacity={0.3} stroke="none" ifOverflow="hidden" />
          <ReferenceArea x1={apdLowX} x2={zoomX[1]} y1={qtLowY} y2={zoomY[1]} fill={PINK} fillOpacity={0.3} stroke="none" ifOverflow="hidden" />
          <ReferenceLine x={apdLowX} stroke="#9a9a9a" strokeWidth={2} strokeDasharray="7 4" />
          <ReferenceLine y={qtLowY} stroke="#9a9a9a" strokeWidth={2} strokeDasharray="7 4" />
          {keys.map((k) => (
            <Scatter key={k} data={toXY(inZoom(sets[k]))} shape={dot(5, C[k], k === 'avg' ? 0.9 : 0.75)} isAnimationActive={false} />
          ))}
          <Scatter data={toXY([[apdDomain[0], qtApdDomain[0]], [apdDomain[1], qtApdDomain[1]]])} fill="#888" line={{ stroke: '#888', strokeWidth: 4.5 }} shape={noDot} isAnimationActive={false} />
          {keys.map((k) => (
            <Scatter key={'f' + k} data={toXY(fits[k])} fill={LC[k]} line={{ stroke: LC[k], strokeWidth: 4 }} shape={noDot} isAnimationActive={false} />
          ))}
        </ScatterChart>
        <div style={{ position: 'absolute', left: -1, top: -1, right: -1, bottom: -1, border: '2px solid #111' }} />
      </div>

      <LegendBox left={plotL + plotW - 158} top={320} width={154} step={16.4} rows={[
        { kind: 'dot', color: C.avg, label: 'Average (R\u00b2=' + r2[0] + ')' },
        { kind: 'dot', color: C.endo, label: 'Endo cell (R\u00b2=' + r2[1] + ')' },
        { kind: 'dot', color: C.mid, label: 'Mid cell (R\u00b2=' + r2[2] + ')' },
        { kind: 'dot', color: C.epi, label: 'Epi cell (R\u00b2=' + r2[3] + ')' },
        { kind: 'line', color: '#888', label: 'Identity' },
        { kind: 'patch', color: GREEN, label: 'Low risk' },
        { kind: 'patch', color: PINK, label: 'High risk' },
      ]} />
      <Titles letter={letter} title={title} letterX={17} titleX={plotL + plotW / 2 + 10} y={26} />
      <AxisLabels xLabel={'\u0394APD [ms] (from 0D)'} yLabel={'\u0394QT [ms] (from 3D)'} xCx={plotL + plotW / 2} xCy={468} yCx={12} yCy={plotT + plotH / 2} />
    </div>
  );
}

function QnetPanel({ left, sets, letter, title, legend }: { left: number; sets: ApdSets; letter: string; title: string; legend: boolean }) {
  const W = 590, H = 470, plotL = 65, plotT = 55, plotW = 512, plotH = 395;
  const keys: (keyof ApdSets)[] = ['avg', 'endo', 'mid', 'epi'];
  return (
    <div style={{ position: 'absolute', left, top: 485, width: W, height: H }}>
      <ScatterChart width={W} height={H} margin={{ top: plotT, right: W - plotL - plotW, bottom: 0, left: 0 }}>
        <CartesianGrid stroke="#e4e4e4" />
        <XAxis type="number" dataKey="x" domain={qnetDomain} ticks={qnetTicks} tickFormatter={fmtQnet} allowDataOverflow axisLine={false}
          tickLine={false} tickSize={0} tickMargin={5} height={H - plotT - plotH} tick={tickStyle} />
        <YAxis type="number" dataKey="y" domain={qtQnetDomain} ticks={qtQnetTicks} allowDataOverflow axisLine={false} tickLine={false}
          tickSize={0} tickMargin={legend ? 9 : 6} width={plotL} tick={tickStyle} />
        <ReferenceArea x1={qnetDomain[0]} x2={qnetHigh} y1={qtHigh} y2={qtQnetDomain[1]} fill={PINK} fillOpacity={0.3} stroke="none" />
        <ReferenceArea x1={qnetHigh} x2={qnetLow} y1={qtLowY} y2={qtHigh} fill={ORANGE} fillOpacity={0.3} stroke="none" />
        <ReferenceArea x1={qnetLow} x2={qnetDomain[1]} y1={qtQnetDomain[0]} y2={qtLowY} fill={GREEN} fillOpacity={0.3} stroke="none" />
        <ReferenceLine x={qnetHigh} stroke="#9a9a9a" strokeDasharray="4 2" />
        <ReferenceLine x={qnetLow} stroke="#9a9a9a" strokeDasharray="4 2" />
        <ReferenceLine y={qtHigh} stroke="#9a9a9a" strokeDasharray="4 2" />
        <ReferenceLine y={qtLowY} stroke="#9a9a9a" strokeDasharray="4 2" />
        {keys.map((k) => (
          <Scatter key={k} data={toXY(sets[k])} shape={dot(2.8, C[k], k === 'avg' ? 0.85 : 0.7)} isAnimationActive={false} />
        ))}
      </ScatterChart>
      {legend && (
        <LegendBox left={plotL + 5} top={323} width={138} step={16.6} rows={[
          { kind: 'dot', color: C.avg, label: 'Average' },
          { kind: 'dot', color: C.endo, label: 'Endo cell' },
          { kind: 'dot', color: C.mid, label: 'Mid cell' },
          { kind: 'dot', color: C.epi, label: 'Epi cell' },
          { kind: 'patch', color: GREEN, label: 'Low risk' },
          { kind: 'patch', color: ORANGE, label: 'Intermediate risk' },
          { kind: 'patch', color: PINK, label: 'High risk' },
        ]} />
      )}
      <Titles letter={letter} title={title} letterX={legend ? 17 : 25} titleX={plotL + plotW / 2 + 2} y={32} />
      <AxisLabels xLabel={'qNet [\u03bcF/\u03bcC] (from 0D)'} yLabel={'\u0394QT [ms] (from 3D)'} xCx={plotL + plotW / 2} xCy={472} yCx={legend ? 12 : 30} yCy={plotT + plotH / 2} />
    </div>
  );
}

export default function App() {
  return (
    <div style={{ position: 'absolute', left: 0, top: 0, width: 1157, height: 965, background: '#fff', overflow: 'hidden' }}>
      <ApdPanel left={0} letter="(a)" title={'\u0394QT vs \u0394APD, males'} r2={['0.89', '0.98', '0.45', '0.98']}
        sets={{ avg: apdMalesAvg, endo: apdMalesEndo, mid: apdMalesMid, epi: apdMalesEpi }}
        fits={{ avg: fitMalesAvg, endo: fitMalesEndo, mid: fitMalesMid, epi: fitMalesEpi }} />
      <ApdPanel left={582} letter="(b)" title={'\u0394QT vs \u0394APD, females'} r2={['0.93', '0.96', '0.76', '0.97']}
        sets={{ avg: apdFemalesAvg, endo: apdFemalesEndo, mid: apdFemalesMid, epi: apdFemalesEpi }}
        fits={{ avg: fitFemalesAvg, endo: fitFemalesEndo, mid: fitFemalesMid, epi: fitFemalesEpi }} />
      <QnetPanel left={0} letter="(c)" title={'\u0394QT vs qNet, males'} legend
        sets={{ avg: qnetMalesAvg, endo: qnetMalesEndo, mid: qnetMalesMid, epi: qnetMalesEpi }} />
      <QnetPanel left={573} letter="(d)" title={'\u0394QT vs qNet, females'} legend={false}
        sets={{ avg: qnetFemalesAvg, endo: qnetFemalesEndo, mid: qnetFemalesMid, epi: qnetFemalesEpi }} />
    </div>
  );
}
